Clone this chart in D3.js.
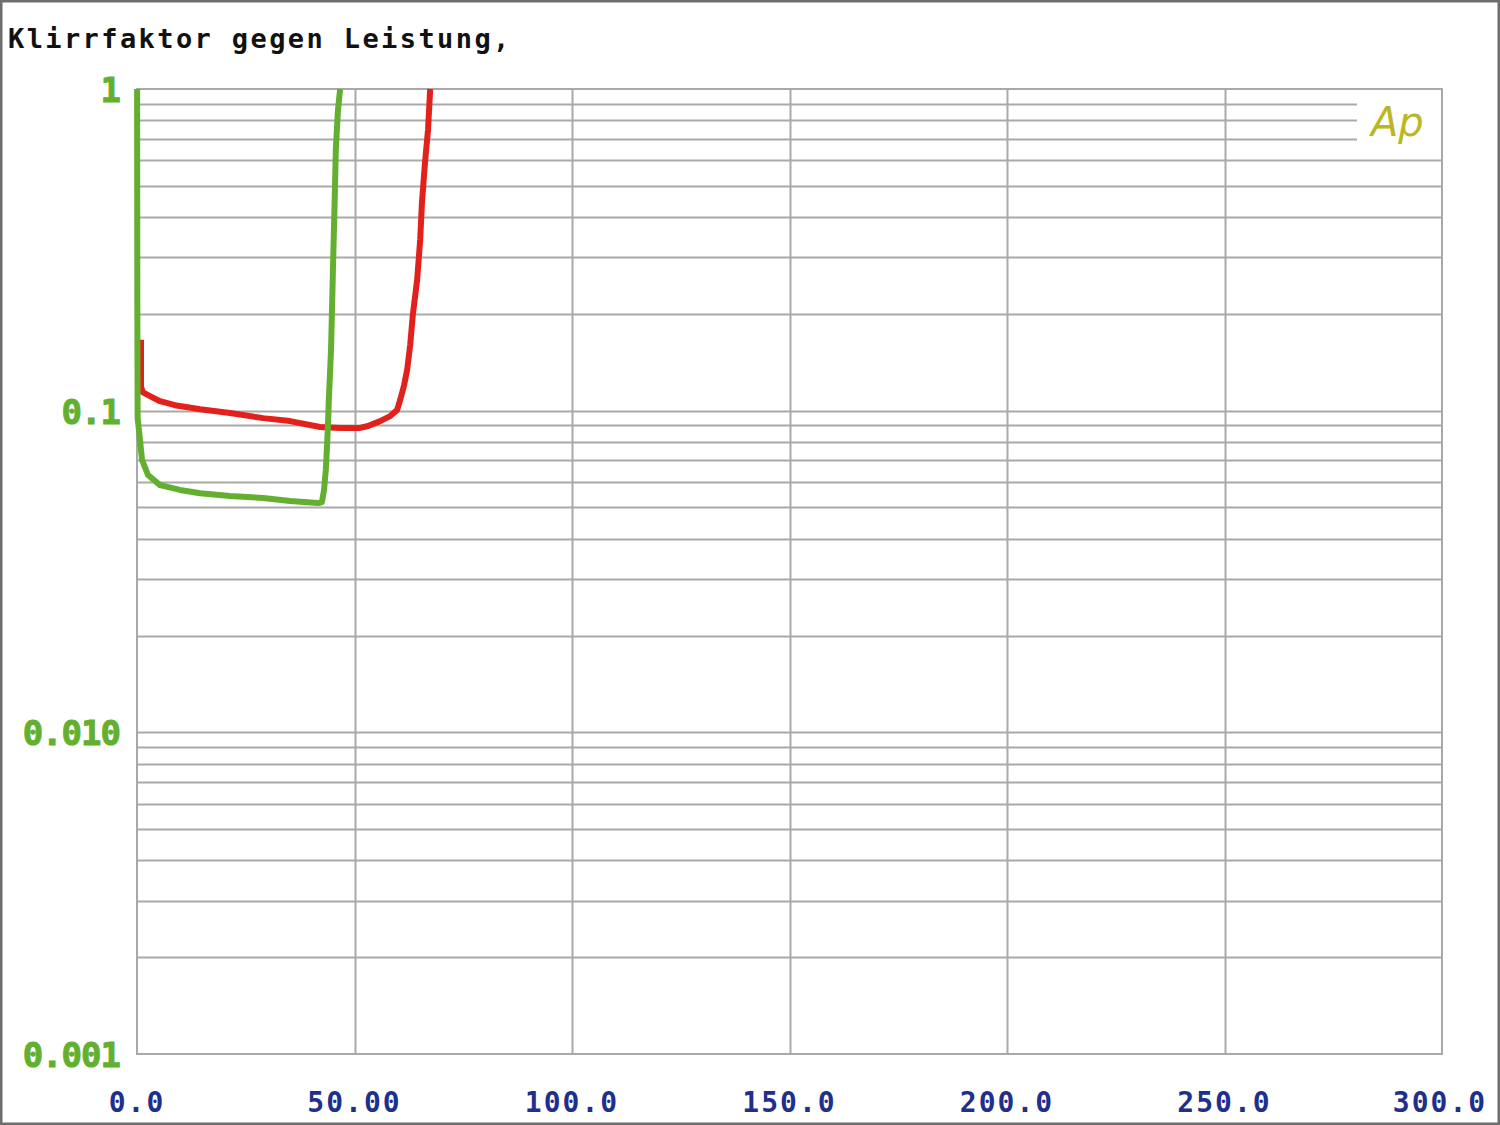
<!DOCTYPE html>
<html><head><meta charset="utf-8">
<script src="https://cdn.jsdelivr.net/npm/d3@7"></script>
<style>
html,body{margin:0;padding:0;background:#fff;}
svg{display:block;}
</style></head>
<body>
<script>
// ---- data ----
const titleText = "Klirrfaktor gegen Leistung,";
const xTicks = [0, 50, 100, 150, 200, 250, 300];
const xTickLabels = ["0.0", "50.00", "100.0", "150.0", "200.0", "250.0", "300.0"];
const yTicks = [1, 0.1, 0.01, 0.001];
const yTickLabels = ["1", "0.1", "0.010", "0.001"];

// red series: power (W) vs THD (%)
const redX = [0.92, 0.92, 1.38, 2.99, 5.29, 8.74, 14.5, 21.4, 29.0, 35.2, 42.1, 46.7, 51.3, 53.1, 55.9, 58.2, 59.8, 60.5, 61.4, 62.1, 62.8, 63.4, 64.4, 65.1, 65.5, 66.2, 66.9, 67.4];
const redY = [0.166, 0.1185, 0.114, 0.111, 0.107, 0.104, 0.101, 0.0984, 0.0948, 0.0928, 0.089, 0.0884, 0.0884, 0.0896, 0.0928, 0.0962, 0.1005, 0.108, 0.120, 0.134, 0.160, 0.198, 0.255, 0.340, 0.442, 0.589, 0.746, 1.0];

// green series
const greenX = [0.02, 0.05, 0.08, 0.15, 0.69, 1.15, 2.53, 5.29, 9.89, 14.5, 21.4, 29.0, 35.2, 41.6, 42.5, 43.0, 43.4, 43.7, 43.9, 44.1, 44.6, 45.1, 45.5, 45.7, 46.2, 46.7];
const greenY = [1.0, 0.45, 0.2, 0.0949, 0.081, 0.0703, 0.0631, 0.0587, 0.0567, 0.0554, 0.0543, 0.0535, 0.0524, 0.0516, 0.0519, 0.0567, 0.0654, 0.0782, 0.0902, 0.108, 0.154, 0.294, 0.485, 0.646, 0.861, 1.0];

const W = 1500, H = 1125;
const svg = d3.select("body").append("svg").attr("width", W).attr("height", H);

// outer frame
svg.append("rect").attr("x", 1).attr("y", 1).attr("width", W - 2).attr("height", H - 2)
  .attr("fill", "#fff").attr("stroke", "#6e6e6e").attr("stroke-width", 3);

const x = d3.scaleLinear().domain([0, 300]).range([137, 1442]);
const y = d3.scaleLog().domain([0.001, 1]).range([1054, 89]);

const gridColor = "#a9a9a9";
const g = svg.append("g");

// horizontal grid (log minor ticks)
const hTicks = y.ticks(30).filter(v => v > 0.001 && v < 1);
g.selectAll("line.h").data(hTicks).join("line")
  .attr("x1", x(0))
  .attr("x2", d => (d >= 0.65 ? 1357 : x(300)))
  .attr("y1", d => Math.round(y(d)) + 0.5)
  .attr("y2", d => Math.round(y(d)) + 0.5)
  .attr("stroke", gridColor).attr("stroke-width", 2);

// vertical grid
g.selectAll("line.v").data(xTicks.slice(1, -1)).join("line")
  .attr("x1", d => Math.round(x(d)) + 0.5).attr("x2", d => Math.round(x(d)) + 0.5)
  .attr("y1", y(1)).attr("y2", y(0.001))
  .attr("stroke", gridColor).attr("stroke-width", 2);

// plot border
g.append("rect").attr("x", x(0)).attr("y", y(1))
  .attr("width", x(300) - x(0)).attr("height", y(0.001) - y(1))
  .attr("fill", "none").attr("stroke", gridColor).attr("stroke-width", 2);

// Ap logo
svg.append("text").attr("x", 1371).attr("y", 136)
  .attr("font-family", "DejaVu Sans").attr("font-style", "italic").attr("font-weight", 200)
  .attr("font-size", 40).attr("fill", "#b9b823").text("Ap");

// series
const line = d3.line().x(d => x(d[0])).y(d => y(d[1]));
const red = d3.zip(redX, redY);
const green = d3.zip(greenX, greenY);
svg.append("path").datum(red).attr("d", line).attr("fill", "none")
  .attr("stroke", "#e3211c").attr("stroke-width", 6).attr("stroke-linejoin", "round");
svg.append("path").datum(green).attr("d", line).attr("fill", "none")
  .attr("stroke", "#63b031").attr("stroke-width", 6).attr("stroke-linejoin", "round");

// title
svg.append("text").attr("x", 8).attr("y", 48)
  .attr("font-family", "DejaVu Sans Mono").attr("font-weight", "bold")
  .attr("font-size", 27).attr("letter-spacing", 2.4).attr("fill", "#111").text(titleText);

// y tick labels
const yl = svg.append("g").attr("font-family", "DejaVu Sans Mono").attr("font-weight", "bold")
  .attr("font-size", 34).attr("text-anchor", "end");
yl.selectAll("text").data(yTicks).join("text")
  .attr("x", 120).attr("y", d => y(d) + 13)
  .attr("fill", "#63b031").attr("letter-spacing", -1)
  .attr("stroke", "#63b031").attr("stroke-width", 1)
  .text((d, i) => yTickLabels[i]);

// x tick labels
svg.append("g").selectAll("text").data(xTicks).join("text")
  .attr("x", (d, i) => (i === xTicks.length - 1 ? 1440 : x(d)))
  .attr("y", 1112)
  .attr("text-anchor", "middle")
  .attr("font-family", "DejaVu Sans Mono").attr("font-weight", "bold")
  .attr("font-size", 28).attr("letter-spacing", 2).attr("fill", "#1f2f8c")
  .text((d, i) => xTickLabels[i]);
</script>
</body></html>
